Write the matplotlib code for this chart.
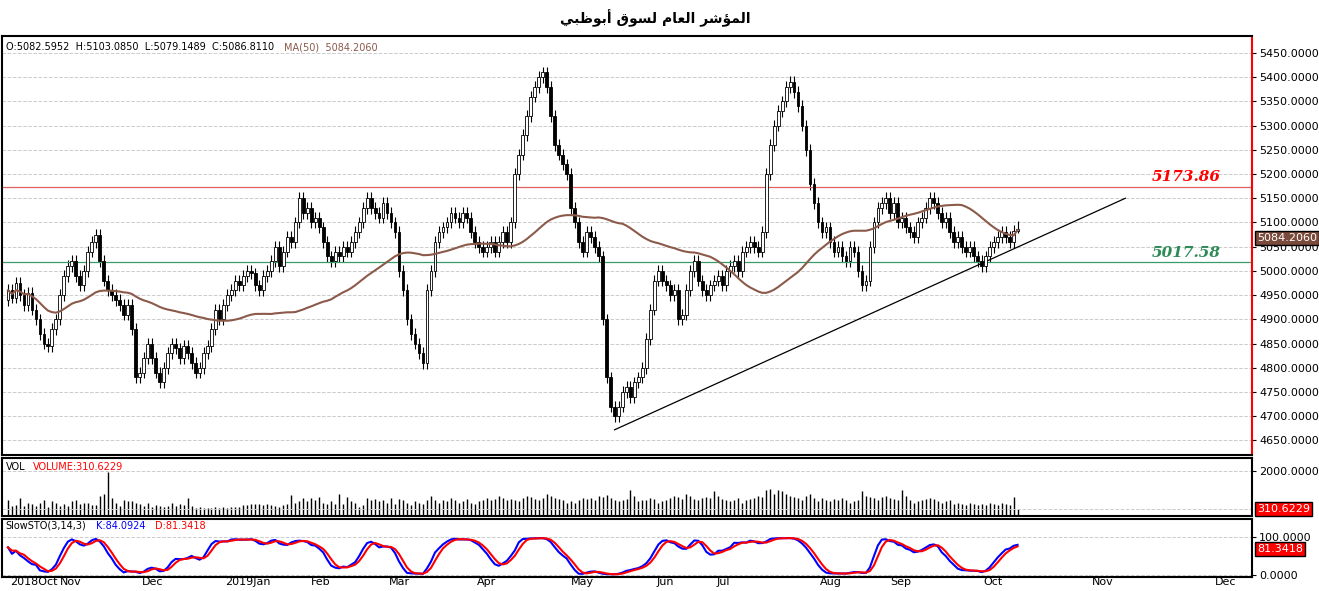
import numpy as np
import pandas as pd
import matplotlib
matplotlib.use("Agg")
import matplotlib.pyplot as plt
from matplotlib.patches import Rectangle

closes = [
4960,4945,4975,4950,4930,4955,4920,4900,4870,4850,
4845,4880,4900,4950,4990,5010,5020,4990,4970,5000,
5040,5060,5075,5020,4980,4960,4950,4940,4930,4910,
4930,4880,4780,4790,4820,4850,4820,4790,4770,4800,
4830,4850,4840,4820,4845,4830,4810,4790,4800,4830,
4845,4880,4920,4900,4930,4950,4960,4980,4970,4990,
5000,4995,4970,4960,4990,5000,5020,5050,5010,5040,
5070,5060,5100,5150,5120,5130,5100,5110,5090,5060,
5030,5020,5040,5030,5050,5040,5060,5080,5100,5130,
5150,5130,5120,5110,5140,5120,5100,5080,5000,4960,
4900,4870,4850,4830,4810,4960,5000,5060,5080,5090,
5100,5120,5110,5100,5120,5110,5080,5060,5050,5040,
5050,5060,5040,5060,5080,5060,5100,5200,5240,5280,
5320,5360,5380,5400,5410,5380,5320,5260,5240,5220,
5200,5130,5100,5060,5040,5080,5070,5050,5030,4900,
4780,4720,4700,4720,4750,4760,4740,4770,4780,4800,
4860,4920,4980,5000,4980,4970,4950,4960,4900,4910,
4960,5000,5020,4980,4960,4950,4970,4980,4990,4970,
5000,5010,5020,5000,5040,5050,5060,5050,5040,5080,
5200,5260,5300,5330,5350,5380,5390,5370,5340,5300,
5250,5180,5140,5100,5080,5090,5060,5040,5050,5030,
5020,5050,5040,5000,4970,4980,5050,5100,5130,5140,
5150,5120,5140,5100,5110,5090,5080,5070,5100,5110,
5130,5150,5140,5120,5100,5110,5080,5060,5070,5050,
5040,5050,5030,5020,5010,5030,5050,5060,5070,5080,
5070,5060,5082.5952,5086.811]

volumes = [
700,450,500,800,450,600,550,450,600,700,400,650,600,450,550,450,650,700,550,600,
600,500,500,900,1000,1950,800,600,450,700,650,650,600,550,450,600,400,500,450,400,
450,600,450,550,500,800,450,350,400,350,350,350,400,350,400,350,400,400,400,500,
500,550,550,550,500,550,500,450,400,500,550,950,600,650,800,650,800,700,850,600,
550,650,550,1000,550,850,650,600,400,500,800,700,750,650,700,600,800,550,750,700,
600,500,650,600,550,700,900,700,600,700,650,800,700,600,650,750,600,550,650,700,
800,700,750,900,800,700,750,700,650,800,900,850,750,700,800,1000,900,800,750,700,
600,650,600,700,800,750,800,700,900,850,950,800,700,650,700,750,1150,900,650,700,
700,800,750,600,650,700,800,900,850,750,1000,900,750,700,800,850,800,1100,900,750,
700,650,700,800,600,700,750,800,900,850,1150,1200,1000,1150,1100,1000,900,850,800,700,
900,1000,800,650,800,700,650,750,700,800,700,600,650,700,1100,900,850,800,700,850,
900,800,750,700,1150,900,700,600,650,700,750,800,750,650,600,650,700,550,600,550,
500,600,550,500,550,500,600,550,500,600,550,500,850,310.6229]

month_labels = ["2018Oct","Nov","Dec","2019Jan","Feb","Mar","Apr","May","Jun","Jul","Aug","Sep","Oct","Nov","Dec"]
month_pos = [0,12.5,33,54,75.5,95,117,140.5,162,177,203,220.5,244,271,302]

resistance = 5173.86
support = 5017.58
trend_x = [152, 280]
trend_y = [4672, 5150]

n = len(closes)
c = np.array(closes, float)
o = np.concatenate([[4940.0], c[:-1]])
o[-1] = 5082.5952
h = np.maximum(o, c) + 12
l = np.minimum(o, c) - 12
h[-1] = 5103.085; l[-1] = 5079.1489
x = np.arange(n)
ma = pd.Series(c).rolling(50, min_periods=1).mean().values
ma[-1] = 5084.206
hh = pd.Series(h).rolling(14, min_periods=1).max()
ll = pd.Series(l).rolling(14, min_periods=1).min()
fast = 100 * (pd.Series(c) - ll) / (hh - ll)
K = fast.rolling(3, min_periods=1).mean()
D = K.rolling(3, min_periods=1).mean()

W, H = 1319, 591
fig = plt.figure(figsize=(W/100, H/100), dpi=100)
def ax_at(l_, t, r, b):
    return fig.add_axes([l_/W, 1-b/H, (r-l_)/W, (b-t)/H])
axm = ax_at(2, 36, 1252, 455)
axv = ax_at(2, 458, 1252, 516)
axs = ax_at(2, 519, 1252, 577)

title = "\uFEF2\uFE92\uFEC7\uFEEE\uFE91\uFE83 \uFED5\uFEEE\uFEB4\uFEDF \uFEE1\uFE8E\uFECC\uFEDF\uFE8D \uFEAE\uFEB7\uFE86\uFEE4\uFEDF\uFE8D"
fig.text(655/W, 1-18/H, title, ha="center", va="center", fontsize=10, fontweight="bold", family="DejaVu Sans")

xlim = (-1.5, 311.75)
for a in (axm, axv, axs):
    a.set_xlim(*xlim)
    a.yaxis.tick_right()
    a.tick_params(axis="y", labelsize=8, length=3, pad=2)
    a.set_xticks([])
    for s in a.spines.values():
        s.set_linewidth(1.5)
axm.spines["right"].set_color("red")

for i in range(n):
    axm.vlines(x[i], l[i], h[i], color="black", lw=0.8, zorder=2)
    up = c[i] >= o[i]
    bot = min(o[i], c[i]); ht = max(abs(c[i]-o[i]), 1.5)
    axm.add_patch(Rectangle((x[i]-0.35, bot), 0.7, ht, facecolor="white" if up else "black",
                            edgecolor="black", lw=0.6, zorder=3))
axm.plot(x, ma, color="#8B5A4A", lw=1.5, zorder=4)
axm.axhline(resistance, color="#e06060", lw=0.9)
axm.axhline(support, color="#3a9a6a", lw=0.9)
axm.plot(trend_x, trend_y, color="black", lw=0.9)
axm.text(304, resistance+5, f"{resistance:.2f}", color="red", fontsize=11, fontweight="bold",
         fontstyle="italic", family="DejaVu Serif", ha="right", va="bottom")
axm.text(304, support+5, f"{support:.2f}", color="#2e8b57", fontsize=11, fontweight="bold",
         fontstyle="italic", family="DejaVu Serif", ha="right", va="bottom")
ylo, yhi = 4620, 5485
axm.set_ylim(ylo, yhi)
yt = np.arange(4650, 5451, 50)
axm.set_yticks(yt)
axm.set_yticklabels([f"{v:.4f}" for v in yt])
axm.grid(axis="y", ls="--", color="#cccccc", lw=0.7)
axm.text(0.003, 0.985, "O:5082.5952  H:5103.0850  L:5079.1489  C:5086.8110", transform=axm.transAxes,
         fontsize=7, va="top", ha="left")
axm.text(0.226, 0.985, "MA(50)  5084.2060", transform=axm.transAxes, fontsize=7, va="top",
         ha="left", color="#8B5A4A")
axm.text(1.004, (5068-ylo)/(yhi-ylo), f"{ma[-1]:.4f}", transform=axm.transAxes, fontsize=8,
         color="white", va="center", ha="left", zorder=10,
         bbox=dict(boxstyle="square,pad=0.15", fc="#7a4a3a", ec="black"))

vtop = 2580
axv.vlines(x, 0, volumes, color="black", lw=1)
axv.set_ylim(0, vtop)
axv.set_yticks([2000])
axv.set_yticklabels(["2000.0000"])
axv.grid(axis="y", ls="--", color="#cccccc", lw=0.7)
axv.axhline(310.6, ls="--", color="#cccccc", lw=0.7)
axv.text(0.003, 0.93, "VOL", transform=axv.transAxes, fontsize=7, va="top")
axv.text(0.025, 0.93, "VOLUME:310.6229", transform=axv.transAxes, fontsize=7, va="top", color="red")
axv.text(1.004, 310.6/vtop, "310.6229", transform=axv.transAxes, fontsize=8, color="white",
         va="center", ha="left", zorder=10, bbox=dict(boxstyle="square,pad=0.15", fc="red", ec="black"))

slo, shi = -5, 147
axs.plot(x, K, color="blue", lw=1.5)
axs.plot(x, D, color="red", lw=1.5)
axs.set_ylim(slo, shi)
axs.set_yticks([0, 100])
axs.set_yticklabels(["0.0000", "100.0000"])
axs.grid(axis="y", ls="--", color="#cccccc", lw=0.7)
axs.text(0.003, 0.97, "SlowSTO(3,14,3)", transform=axs.transAxes, fontsize=7, va="top")
axs.text(0.075, 0.97, "K:84.0924", transform=axs.transAxes, fontsize=7, va="top", color="blue")
axs.text(0.122, 0.97, "D:81.3418", transform=axs.transAxes, fontsize=7, va="top", color="red")
axs.text(1.004, (68-slo)/(shi-slo), "81.3418", transform=axs.transAxes, fontsize=8, color="white",
         va="center", ha="left", zorder=10, bbox=dict(boxstyle="square,pad=0.15", fc="red", ec="black"))
for p, lab in zip(month_pos, month_labels):
    axs.vlines(p, slo, 0, color="#999999", lw=0.8)
    axs.text(p + 0.5, slo - 1, lab, fontsize=8, ha="left", va="top")

fig.savefig("out.png", dpi=100)
